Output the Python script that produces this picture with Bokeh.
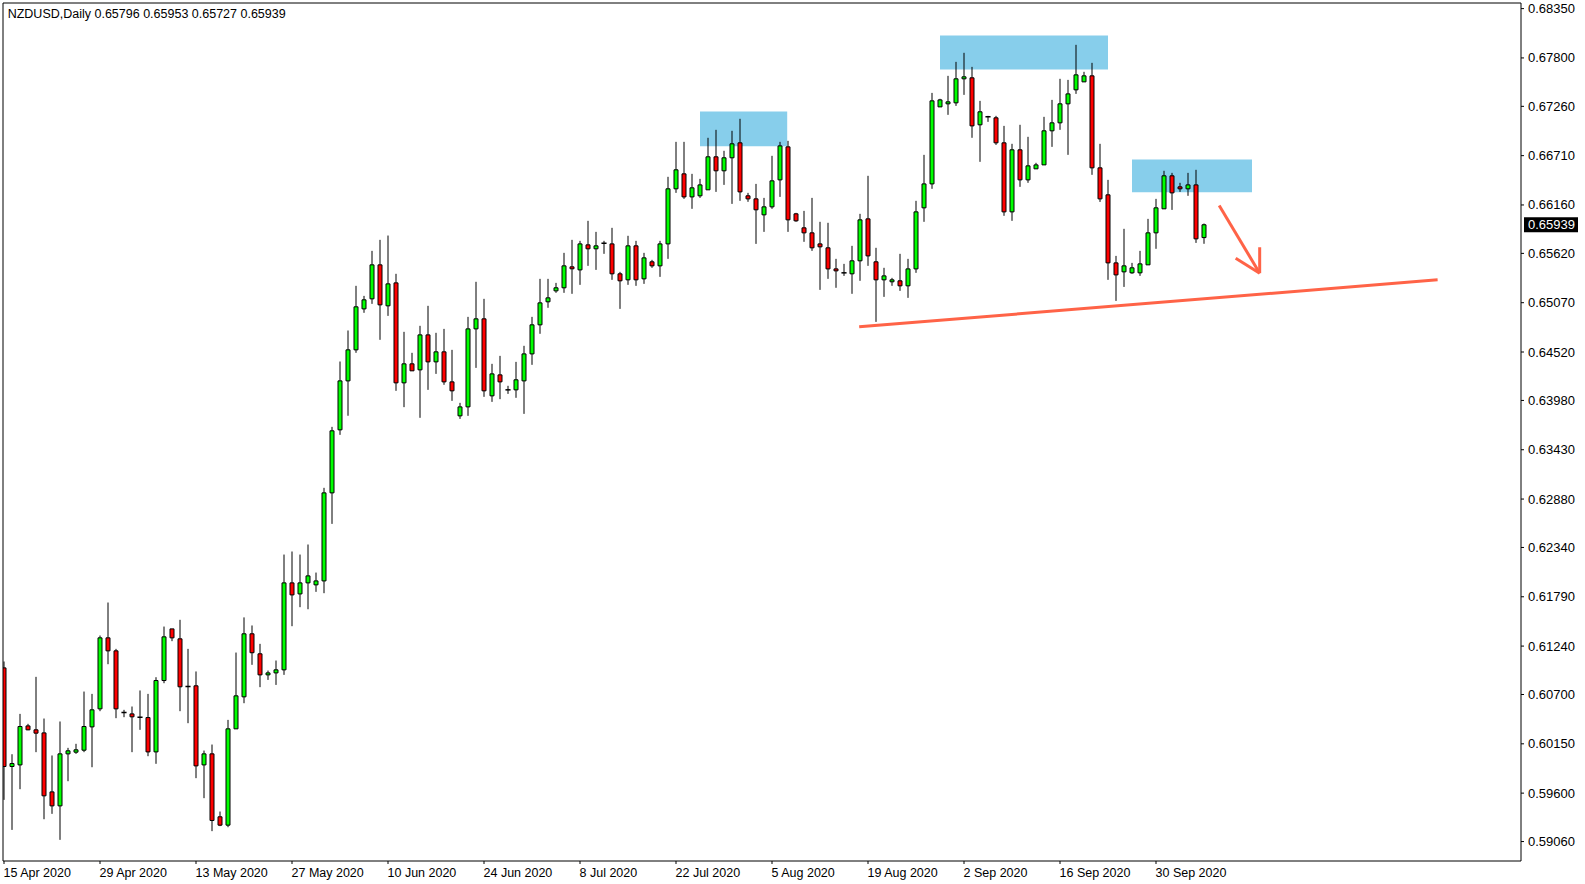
from bokeh.plotting import figure
from bokeh.models import ColumnDataSource, Range1d
from bokeh.core.properties import value
from bokeh.embed import file_html
from bokeh.resources import INLINE

TITLE = "NZDUSD,Daily  0.65796 0.65953 0.65727 0.65939"
LAST_PRICE = 0.65939

DATE_LABELS = ["15 Apr 2020", "29 Apr 2020", "13 May 2020", "27 May 2020", "10 Jun 2020",
               "24 Jun 2020", "8 Jul 2020", "22 Jul 2020", "5 Aug 2020", "19 Aug 2020",
               "2 Sep 2020", "16 Sep 2020", "30 Sep 2020"]
BARS_PER_LABEL = 12  # six daily bars per week (incl. Sunday) -> two weeks

Y_TICKS = [0.68350, 0.67800, 0.67260, 0.66710, 0.66160, 0.65620, 0.65070, 0.64520, 0.63980,
           0.63430, 0.62880, 0.62340, 0.61790, 0.61240, 0.60700, 0.60150, 0.59600, 0.59060]

OPEN = [0.60997, 0.59897, 0.59915, 0.60350, 0.60306, 0.60272, 0.59614, 0.59458, 0.60038, 0.60057,
        0.60079, 0.60339, 0.60540, 0.61332, 0.61187, 0.60499, 0.60484, 0.60447, 0.60443, 0.60060,
        0.60856, 0.61432, 0.61321, 0.60789, 0.60797, 0.59915, 0.60038, 0.59336, 0.59243, 0.60317,
        0.60674, 0.61377, 0.61154, 0.60919, 0.60941, 0.60975, 0.61945, 0.61822, 0.61945, 0.61923,
        0.61967, 0.62949, 0.63652, 0.64198, 0.64544, 0.65001, 0.65113, 0.65492, 0.65035, 0.65291,
        0.64176, 0.64388, 0.64321, 0.64711, 0.64410, 0.64522, 0.64187, 0.63808, 0.63908, 0.64778,
        0.64890, 0.64031, 0.64265, 0.64098, 0.64098, 0.64198, 0.64499, 0.64823, 0.65080, 0.65202,
        0.65236, 0.65470, 0.65436, 0.65715, 0.65671, 0.65734, 0.65726, 0.65392, 0.65325, 0.65704,
        0.65336, 0.65526, 0.65481, 0.65726, 0.66340, 0.66507, 0.66250, 0.66262, 0.66329, 0.66697,
        0.66541, 0.66686, 0.66853, 0.66262, 0.66228, 0.66050, 0.66139, 0.66440, 0.66808, 0.66061,
        0.65905, 0.65849, 0.65726, 0.65682, 0.65447, 0.65403, 0.65392, 0.65537, 0.66005, 0.65526,
        0.65325, 0.65303, 0.65314, 0.65258, 0.65447, 0.66128, 0.66395, 0.67254, 0.67288, 0.67299,
        0.67567, 0.67578, 0.67054, 0.67143, 0.67132, 0.66853, 0.66083, 0.66775, 0.66440, 0.66563,
        0.66607, 0.66987, 0.67076, 0.67288, 0.67444, 0.67533, 0.67600, 0.66574, 0.66273, 0.65514,
        0.65414, 0.65403, 0.65403, 0.65492, 0.65849, 0.66117, 0.66485, 0.66362, 0.66340, 0.66384,
        0.65796]
HIGH = [0.61068, 0.60034, 0.60484, 0.60373, 0.60897, 0.60432, 0.60020, 0.60399, 0.60105, 0.60150,
        0.60733, 0.60707, 0.61358, 0.61726, 0.61209, 0.60529, 0.60566, 0.60745, 0.60707, 0.60893,
        0.61458, 0.61432, 0.61533, 0.61209, 0.60957, 0.60075, 0.60142, 0.59395, 0.60417, 0.61168,
        0.61560, 0.61470, 0.61265, 0.60967, 0.61079, 0.62261, 0.62295, 0.62261, 0.62373, 0.62060,
        0.63005, 0.63685, 0.64414, 0.64760, 0.65258, 0.65146, 0.65648, 0.65771, 0.65819, 0.65392,
        0.64745, 0.64511, 0.64812, 0.65035, 0.64734, 0.64778, 0.64544, 0.63953, 0.64912, 0.65303,
        0.65113, 0.64388, 0.64477, 0.64143, 0.64410, 0.64589, 0.64912, 0.65336, 0.65336, 0.65291,
        0.65626, 0.65771, 0.65760, 0.65983, 0.65860, 0.65760, 0.65905, 0.65414, 0.65816, 0.65760,
        0.65626, 0.65548, 0.65760, 0.66474, 0.66864, 0.66864, 0.66507, 0.66451, 0.66909, 0.66998,
        0.66764, 0.66987, 0.67121, 0.66295, 0.66395, 0.66239, 0.66708, 0.66864, 0.66875, 0.66072,
        0.66094, 0.66239, 0.65972, 0.65961, 0.65559, 0.65503, 0.65704, 0.66061, 0.66485, 0.65682,
        0.65459, 0.65347, 0.65615, 0.65559, 0.66206, 0.66719, 0.67410, 0.67344, 0.67600, 0.67756,
        0.67857, 0.67700, 0.67321, 0.67154, 0.67154, 0.67042, 0.66842, 0.67054, 0.66920, 0.66630,
        0.67143, 0.67332, 0.67567, 0.67555, 0.67946, 0.67645, 0.67745, 0.66842, 0.66440, 0.65592,
        0.65894, 0.65514, 0.65648, 0.66005, 0.66228, 0.66541, 0.66518, 0.66407, 0.66518, 0.66552,
        0.65953]
LOW = [0.59525, 0.59190, 0.59644, 0.60302, 0.60057, 0.59309, 0.59369, 0.59079, 0.59733, 0.60038,
       0.60057, 0.59889, 0.60514, 0.61038, 0.60436, 0.60447, 0.60057, 0.60306, 0.60012, 0.59927,
       0.60826, 0.61295, 0.60514, 0.60380, 0.59767, 0.59544, 0.59176, 0.59232, 0.59220, 0.60317,
       0.60603, 0.61031, 0.60782, 0.60863, 0.60807, 0.60919, 0.61462, 0.61674, 0.61651, 0.61845,
       0.61830, 0.62603, 0.63596, 0.63809, 0.64511, 0.64957, 0.65057, 0.64656, 0.64923, 0.64087,
       0.63905, 0.64310, 0.63786, 0.64098, 0.64276, 0.64154, 0.63975, 0.63774, 0.63808, 0.64343,
       0.64020, 0.63964, 0.63994, 0.64053, 0.64009, 0.63830, 0.64377, 0.64723, 0.65013, 0.65180,
       0.65180, 0.65169, 0.65269, 0.65481, 0.65436, 0.65615, 0.65325, 0.65001, 0.65269, 0.65258,
       0.65280, 0.65459, 0.65358, 0.65559, 0.66295, 0.66228, 0.66117, 0.66239, 0.66329, 0.66306,
       0.66384, 0.66172, 0.66206, 0.66195, 0.65726, 0.65860, 0.66117, 0.66250, 0.65860, 0.65972,
       0.65749, 0.65648, 0.65213, 0.65336, 0.65236, 0.65369, 0.65169, 0.65314, 0.65481, 0.64856,
       0.65135, 0.65258, 0.65202, 0.65124, 0.65403, 0.65972, 0.66340, 0.67254, 0.67165, 0.67265,
       0.67388, 0.66909, 0.66641, 0.67087, 0.66830, 0.66039, 0.65983, 0.66362, 0.66407, 0.66563,
       0.66607, 0.66808, 0.66998, 0.66719, 0.67399, 0.67533, 0.66496, 0.66194, 0.65325, 0.65090,
       0.65246, 0.65392, 0.65369, 0.65492, 0.65671, 0.66117, 0.66105, 0.66306, 0.66262, 0.65737,
       0.65727]
CLOSE = [0.59897, 0.59930, 0.60343, 0.60306, 0.60269, 0.59570, 0.59458, 0.60038, 0.60072, 0.60083,
         0.60343, 0.60529, 0.61332, 0.61187, 0.60540, 0.60499, 0.60451, 0.60447, 0.60060, 0.60856,
         0.61343, 0.61332, 0.60786, 0.60789, 0.59904, 0.60038, 0.59295, 0.59243, 0.60317, 0.60685,
         0.61377, 0.61166, 0.60919, 0.60941, 0.60975, 0.61945, 0.61811, 0.61945, 0.62023, 0.61967,
         0.62949, 0.63641, 0.64198, 0.64544, 0.65024, 0.65102, 0.65492, 0.65046, 0.65280, 0.64176,
         0.64388, 0.64310, 0.64711, 0.64410, 0.64522, 0.64187, 0.64087, 0.63908, 0.64778, 0.64890,
         0.64087, 0.64276, 0.64187, 0.64098, 0.64210, 0.64499, 0.64823, 0.65068, 0.65124, 0.65236,
         0.65481, 0.65448, 0.65726, 0.65671, 0.65704, 0.65734, 0.65392, 0.65314, 0.65704, 0.65325,
         0.65570, 0.65481, 0.65726, 0.66340, 0.66552, 0.66250, 0.66351, 0.66384, 0.66697, 0.66541,
         0.66686, 0.66842, 0.66306, 0.66228, 0.66106, 0.66139, 0.66429, 0.66819, 0.65994, 0.65983,
         0.65849, 0.65682, 0.65693, 0.65447, 0.65425, 0.65403, 0.65537, 0.65994, 0.65592, 0.65325,
         0.65369, 0.65325, 0.65258, 0.65447, 0.66083, 0.66395, 0.67321, 0.67332, 0.67310, 0.67567,
         0.67589, 0.67042, 0.67199, 0.67143, 0.66853, 0.66083, 0.66775, 0.66440, 0.66596, 0.66607,
         0.66987, 0.67076, 0.67288, 0.67399, 0.67611, 0.67600, 0.66574, 0.66228, 0.65514, 0.65380,
         0.65481, 0.65459, 0.65503, 0.65849, 0.66128, 0.66485, 0.66295, 0.66340, 0.66384, 0.65782,
         0.65939]

# Supply zones (bar index from / to, price top / bottom)
ZONE_LEFT = [87, 117, 141]
ZONE_RIGHT = [97.9, 138, 156]
ZONE_TOP = [0.67202, 0.68050, 0.66667]
ZONE_BOTTOM = [0.66815, 0.67671, 0.66302]

# Support trend line (bar index, price)
TREND_X = [106.9, 179.2]
TREND_Y = [0.64801, 0.65325]

# Hand-drawn arrow (bar index, price)
ARROW_XS = [[151.9, 156.96], [153.96, 156.96], [156.96, 156.96]]
ARROW_YS = [[0.66154, 0.65399], [0.65566, 0.65399], [0.65689, 0.65399]]

n = len(OPEN)
xs = list(range(n))
top = [max(o, c) for o, c in zip(OPEN, CLOSE)]
bot = [min(o, c) for o, c in zip(OPEN, CLOSE)]
col = ["#00FF00" if c > o else "#FF0000" for o, c in zip(OPEN, CLOSE)]
body_idx = [i for i in range(n) if OPEN[i] != CLOSE[i]]
doji_idx = [i for i in range(n) if OPEN[i] == CLOSE[i]]

# ---- layout: the whole canvas is the data frame; the chart box is drawn inside it ----
W, H = 1585, 884
BOX_L, BOX_T, BOX_R, BOX_B = 3, 3, 1520, 860       # chart box in canvas pixels
bar_px = 8.0                                       # pixels per bar
px_per_price = 8966.0                              # pixels per price unit
x_box0 = -0.0625                                   # bar index at chart box left edge
y_box_top = 0.68407                                # price at chart box top edge

DX = 1.0 / bar_px
DY = 1.0 / px_per_price
x_canvas0 = x_box0 - BOX_L * DX
x_canvas1 = x_canvas0 + W * DX
y_canvas1 = y_box_top + BOX_T * DY
y_canvas0 = y_canvas1 - H * DY

bx0 = x_canvas0 + (BOX_L - 0.5) * DX
bx1 = x_canvas0 + (BOX_R + 0.5) * DX
by1 = y_canvas1 - (BOX_T - 0.5) * DY
by0 = y_canvas1 - (BOX_B + 0.5) * DY

p = figure(width=W, height=H, output_backend="svg", toolbar_location=None,
           x_range=Range1d(x_canvas0, x_canvas1), y_range=Range1d(y_canvas0, y_canvas1),
           x_axis_location=None, y_axis_location=None,
           min_border=0, min_border_left=0, min_border_right=0,
           min_border_top=0, min_border_bottom=0,
           background_fill_color="white", border_fill_color="white")
p.grid.visible = False
p.outline_line_color = None

# zones (background)
p.quad(left=ZONE_LEFT, right=ZONE_RIGHT, top=ZONE_TOP, bottom=ZONE_BOTTOM,
       fill_color="#87CEEB", line_color=None)

# candles
src = ColumnDataSource(dict(x=xs, o=OPEN, h=HIGH, l=LOW, c=CLOSE, top=top, bot=bot, col=col))
p.segment(x0="x", y0="l", x1="x", y1="h", source=src, line_color="black", line_width=1)
bsrc = ColumnDataSource(dict(x=[xs[i] for i in body_idx], top=[top[i] for i in body_idx],
                             bot=[bot[i] for i in body_idx], col=[col[i] for i in body_idx]))
p.vbar(x="x", width=0.5, top="top", bottom="bot", source=bsrc,
       fill_color="col", line_color="black", line_width=1)
dsrc = ColumnDataSource(dict(xa=[xs[i] - 0.32 for i in doji_idx], xb=[xs[i] + 0.32 for i in doji_idx],
                             y=[OPEN[i] for i in doji_idx]))
p.segment(x0="xa", y0="y", x1="xb", y1="y", source=dsrc, line_color="black", line_width=1.5)

# trend line and arrow
p.line(TREND_X, TREND_Y, line_color="#FF6347", line_width=3)
p.multi_line(ARROW_XS, ARROW_YS, line_color="#FF6347", line_width=3)

# white margins outside the chart box (hide anything drawn past it)
p.quad(left=[x_canvas0, bx1, x_canvas0, x_canvas0],
       right=[bx0, x_canvas1, x_canvas1, x_canvas1],
       top=[y_canvas1, y_canvas1, y_canvas1, by0],
       bottom=[y_canvas0, y_canvas0, by1, y_canvas0],
       fill_color="white", line_color=None)

# chart box
p.quad(left=[bx0], right=[bx1], top=[by1], bottom=[by0],
       fill_color=None, line_color="black", line_width=1)

# price scale: ticks and labels
p.segment(x0=[bx1] * len(Y_TICKS), y0=Y_TICKS, x1=[bx1 + 3 * DX] * len(Y_TICKS), y1=Y_TICKS,
          line_color="black", line_width=1)
p.text(x=[bx1 + 7 * DX] * len(Y_TICKS), y=Y_TICKS, text=["%.5f" % t for t in Y_TICKS],
       text_font=value("Liberation Sans"), text_font_size=value("13px"), text_color="black",
       text_align="left", text_baseline="middle")

# time scale: ticks and left-aligned date labels
date_x = [k * BARS_PER_LABEL for k in range(len(DATE_LABELS))]
p.segment(x0=date_x, y0=[by0] * len(date_x), x1=date_x, y1=[by0 - 3 * DY] * len(date_x),
          line_color="black", line_width=1)
p.text(x=[xv - 0.5 * DX for xv in date_x], y=[by0 - 12 * DY] * len(date_x), text=DATE_LABELS,
       text_font=value("Liberation Sans"), text_font_size=value("12.5px"), text_color="black",
       text_align="left", text_baseline="middle")

# last price tag
p.quad(left=[bx1 + 3 * DX], right=[bx1 + 57 * DX], top=[LAST_PRICE + 7.5 * DY],
       bottom=[LAST_PRICE - 7.5 * DY], fill_color="black", line_color=None)
p.text(x=[bx1 + 7 * DX], y=[LAST_PRICE], text=["%.5f" % LAST_PRICE],
       text_font=value("Liberation Sans"), text_font_size=value("13px"), text_color="white",
       text_align="left", text_baseline="middle")

# title text
p.text(x=[0.46], y=[0.68292], text=[TITLE], text_font=value("Liberation Sans"),
       text_font_size=value("12.5px"), text_color="black", text_baseline="middle",
       text_align="left")

open("out.html", "w").write(file_html(p, INLINE))
